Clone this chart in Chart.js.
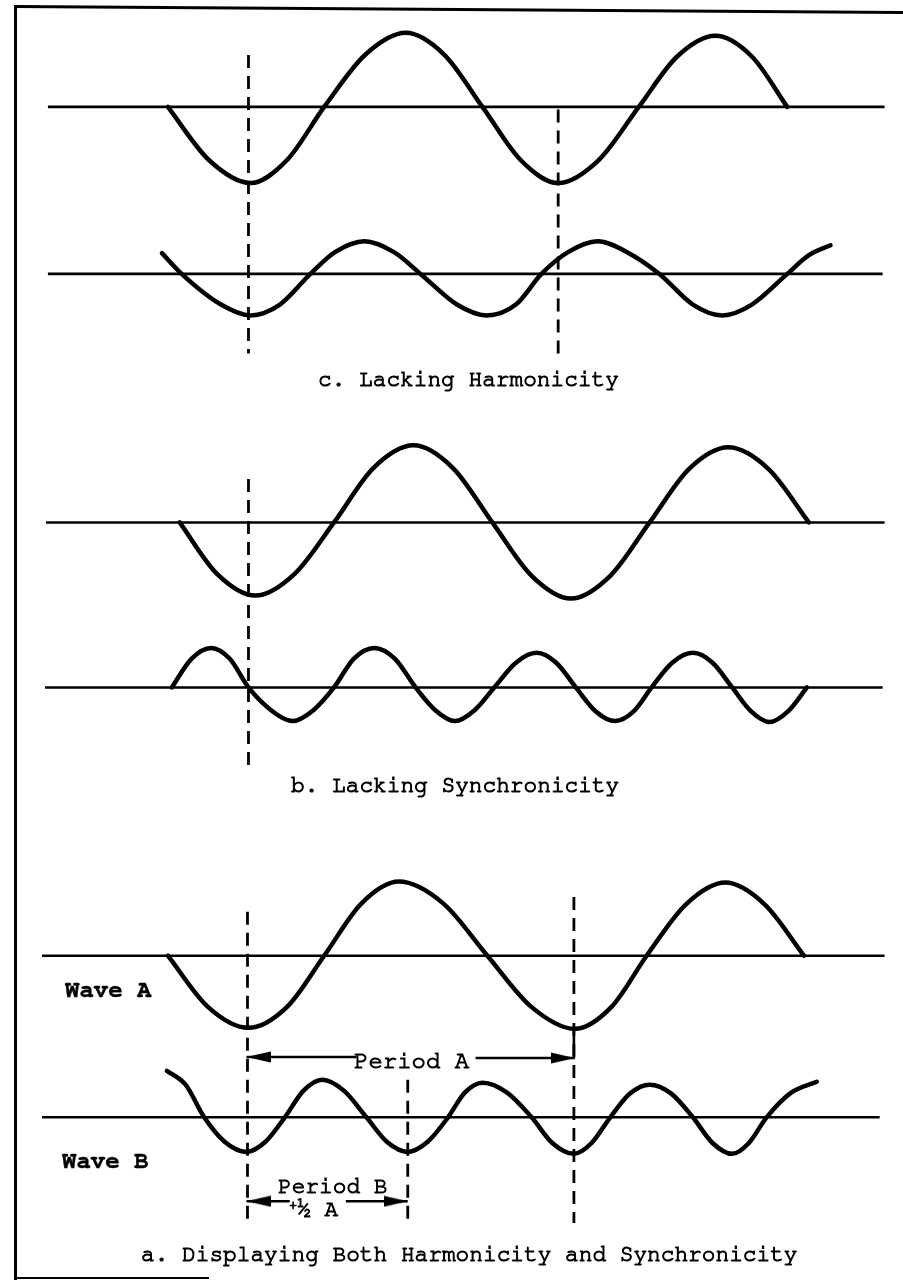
<!DOCTYPE html>
<html>
<head>
<meta charset="utf-8">
<script src="https://cdn.jsdelivr.net/npm/chart.js@4.4.0/dist/chart.umd.min.js"></script>
<style>
  html, body { margin: 0; padding: 0; background: #fff; }
  #page { position: relative; width: 903px; height: 1283px; overflow: hidden; background: #fff; }
  #page canvas { position: absolute; left: 0; top: 0; }
  .lbl { position: absolute; white-space: pre; font-family: "FreeMono", "Liberation Mono", monospace;
         color: #000; line-height: normal; -webkit-text-stroke: 1px #000; }
  .lbl.bold { font-weight: bold; -webkit-text-stroke: 0.4px #000; }
  .lbl sup { font-size: 0.6em; vertical-align: 0.5em; line-height: 0; }
  .lbl .mark { display: inline-block; width: 0; height: 0; }
  .rule { position: absolute; background: #000; }
</style>
</head>
<body>
<div id="page">
  <canvas id="waves" width="903" height="1283"></canvas>
  <div class="rule" style="left:14px;top:5px;width:3px;height:1275px"></div>
  <div class="rule" style="left:14px;top:5px;width:889px;height:3px;transform-origin:0 0;transform:rotate(0.38deg)"></div>
  <div class="rule" style="left:14px;top:1277px;width:195px;height:2px"></div>
</div>
<script>
// ---- wave data: x = time position, y = displacement from the wave's own zero line ----
// c. Lacking Harmonicity
const lackHarmA_x = [163, 205, 247, 284, 322, 364, 405, 444, 483, 522, 560, 601, 642, 681, 720, 757, 793];
const lackHarmA_y = [0, -54, -77, -54, 0, 53, 75, 53, 0, -54, -77, -54, 0, 51, 72, 51, 0];
const lackHarmB_x = [157, 177, 217, 247, 277, 308, 333, 363, 393, 420, 457, 487, 517, 543, 570, 600, 630, 663, 697, 727, 757, 793, 815, 837];
const lackHarmB_y = [21, 0, -31, -42, -31, 0, 22, 33, 22, 0, -31, -42, -31, 0, 22, 33, 22, 0, -31, -42, -31, 0, 19, 29];

// b. Lacking Synchronicity
const lackSyncA_x = [175, 213, 252, 292, 332, 372, 413, 453, 493, 533, 573, 613, 653, 693, 733, 774, 815];
const lackSyncA_y = [0, -52, -74, -52, 0, 55, 78, 55, 0, -54, -77, -54, 0, 54, 76, 54, 0];
const lackSyncB_x = [167, 187, 207, 226, 245, 268, 290, 311, 332, 352, 373, 394, 415, 435, 455, 475, 495, 517, 538, 558, 578, 598, 618, 637, 655, 676, 697, 717, 737, 756, 775, 794, 813];
const lackSyncB_y = [0, 29, 40, 29, 0, -23, -34, -23, 0, 29, 40, 29, 0, -23, -34, -23, 0, 25, 35, 25, 0, -24, -34, -24, 0, 25, 35, 25, 0, -24, -35, -24, 0];

// a. Displaying Both Harmonicity and Synchronicity
const bothA_x = [163, 204, 245, 284, 322, 360, 398, 443, 488, 533, 577, 614, 650, 690, 730, 770, 810];
const bothA_y = [0, -52, -73, -52, 0, 53, 75, 53, 0, -52, -74, -52, 0, 52, 74, 52, 0];
const bothB_x = [162, 181, 200, 221, 243, 262, 282, 301, 320, 342, 365, 386, 407, 427, 448, 465, 483, 508, 533, 554, 576, 594, 613, 633, 653, 675, 697, 717, 737, 754, 772, 797, 823];
const bothB_y = [47, 33, 0, -25, -35, -25, 0, 27, 38, 27, 0, -25, -35, -25, 0, 25, 35, 25, 0, -26, -37, -26, 0, 24, 33, 24, 0, -26, -37, -26, 0, 25, 36];

// zero lines: [start, end] along x
const zeroSpans = {
  yCA: [41, 892], yCB: [41, 890],
  yBA: [39, 892], yBB: [38, 890],
  yAA: [35, 892], yAB: [35, 887]
};

// dashed guides (page units): [x, top, bottom]
const guides = [[245, 48, 350], [560, 103, 352], [245, 477, 768], [244, 915, 1228], [407, 1085, 1227], [576, 900, 1230]];

// dimension arrows (page units): [tail x, tip x, y]
const arrows = [[355, 243, 1062], [476, 577, 1063], [287, 243, 1208], [344, 407, 1208]];

// ---- layout: where each wave's zero line sits on the page ----
const PAGE_H = 1283;
const rowBase = { yCA: 100.5, yCB: 269.5, yBA: 521, yBB: 688, yAA: 959.5, yAB: 1123 };
const ink = '#000';

function arrowHead(len, half) {
  const cv = document.createElement('canvas');
  cv.width = len * 2;
  cv.height = half * 2;
  const g = cv.getContext('2d');
  g.fillStyle = ink;
  g.beginPath();
  g.moveTo(len, half);
  g.lineTo(0, 0.5);
  g.lineTo(0, half * 2 - 0.5);
  g.closePath();
  g.fill();
  return cv;
}
const head = arrowHead(24, 6);

function pts(xs, ys) { return xs.map((x, i) => ({ x: x, y: ys[i] })); }

function wave(xs, ys, axis) {
  return {
    data: pts(xs, ys), yAxisID: axis,
    borderColor: ink, borderWidth: 4.5, borderCapStyle: 'round', borderJoinStyle: 'round',
    cubicInterpolationMode: 'monotone', pointRadius: 0, fill: false
  };
}

const datasets = [];
// zero lines
Object.keys(zeroSpans).forEach(axis => {
  datasets.push({
    data: [{ x: zeroSpans[axis][0], y: 0 }, { x: zeroSpans[axis][1], y: 0 }], yAxisID: axis,
    borderColor: ink, borderWidth: 2.6, pointRadius: 0, fill: false
  });
});
datasets.push(wave(lackHarmA_x, lackHarmA_y, 'yCA'));
datasets.push(wave(lackHarmB_x, lackHarmB_y, 'yCB'));
datasets.push(wave(lackSyncA_x, lackSyncA_y, 'yBA'));
datasets.push(wave(lackSyncB_x, lackSyncB_y, 'yBB'));
datasets.push(wave(bothA_x, bothA_y, 'yAA'));
datasets.push(wave(bothB_x, bothB_y, 'yAB'));

guides.forEach(g => {
  datasets.push({
    data: [{ x: g[0], y: g[1] }, { x: g[0], y: g[2] }], yAxisID: 'page',
    borderColor: ink, borderWidth: 2.8, borderDash: [13, 8], pointRadius: 0, fill: false
  });
});
// short solid drop from the Period A trough to its arrow
datasets.push({
  data: [{ x: 576, y: 1033 }, { x: 576, y: 1063 }], yAxisID: 'page',
  borderColor: ink, borderWidth: 2.6, pointRadius: 0, fill: false
});
arrows.forEach(a => {
  datasets.push({
    data: [{ x: a[0], y: a[2] }, { x: a[1], y: a[2] }], yAxisID: 'page',
    borderColor: ink, borderWidth: 2.6, fill: false,
    pointStyle: head, pointRadius: [0, 5], pointRotation: a[1] > a[0] ? 0 : 180
  });
});

const scales = {
  x: { type: 'linear', min: 0, max: 903, display: false },
  page: { type: 'linear', axis: 'y', min: 0, max: PAGE_H, reverse: true, display: false }
};
Object.keys(rowBase).forEach(id => {
  scales[id] = { type: 'linear', axis: 'y', min: rowBase[id] - PAGE_H, max: rowBase[id], display: false };
});

new Chart(document.getElementById('waves'), {
  type: 'line',
  data: { datasets: datasets },
  options: {
    responsive: false,
    animation: false,
    events: [],
    layout: { padding: 0 },
    plugins: { legend: { display: false }, tooltip: { enabled: false }, title: { display: false } },
    scales: scales
  }
});

// ---- text (x = left edge, base = baseline) ----
const T = 22.8;
const textItems = [
  { html: 'c. Lacking Harmonicity', x: 318, base: 386, size: T },
  { html: 'b. Lacking Synchronicity', x: 291, base: 792, size: T },
  { html: 'a. Displaying Both Harmonicity and Synchronicity', x: 141, base: 1261, size: T },
  { html: 'Wave A', x: 65, base: 997, size: 24, bold: true },
  { html: 'Wave B', x: 62, base: 1168, size: 24, bold: true },
  { html: 'Period A', x: 354, base: 1068, size: 24 },
  { html: 'Period B', x: 278, base: 1193, size: T },
  { html: '<sup>+</sup>\u00BD A', x: 289, base: 1216, size: T }
];
const page = document.getElementById('page');
textItems.forEach(t => {
  const d = document.createElement('div');
  d.className = 'lbl' + (t.bold ? ' bold' : '');
  d.innerHTML = t.html + '<span class="mark"></span>';
  d.style.left = t.x + 'px';
  d.style.top = '0px';
  d.style.fontSize = t.size + 'px';
  page.appendChild(d);
  // the empty inline-block sits on the baseline: shift the block so that baseline lands at t.base
  const baseOffset = d.querySelector('.mark').offsetTop;
  d.style.top = (t.base - baseOffset) + 'px';
});
</script>
</body>
</html>
